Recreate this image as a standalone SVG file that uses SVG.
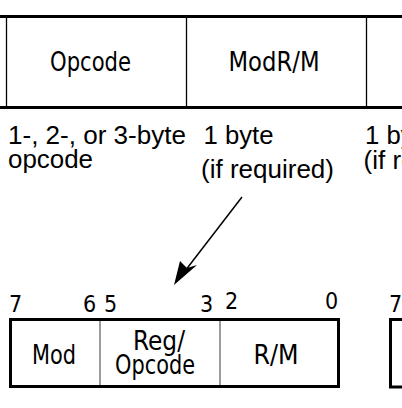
<svg xmlns="http://www.w3.org/2000/svg" width="402" height="408" viewBox="0 0 402 408">
<style>
.lbl{font-family:"DejaVu Sans Condensed","DejaVu Sans",sans-serif;font-size:26px;fill:#000;text-anchor:middle}
.bit{font-family:"DejaVu Sans Condensed","DejaVu Sans",sans-serif;font-size:23px;fill:#000}
.note{font-family:"Liberation Sans",Arial,sans-serif;font-size:25.5px;fill:#000}
.thick{stroke:#000;stroke-width:3;fill:none}
.thin{stroke:#000;stroke-width:1.3;fill:none}
.grey{stroke:#666;stroke-width:1.3;fill:none}
</style>
<rect width="402" height="408" fill="#fff"/>
<g id="instruction-format">
<line class="thin" x1="6.5" y1="16" x2="6.5" y2="107"/>
<line class="thin" x1="186.5" y1="16" x2="186.5" y2="107"/>
<line class="thin" x1="366.5" y1="16" x2="366.5" y2="107"/>
<line class="thick" x1="0" y1="16.5" x2="402" y2="16.5" stroke-width="2.8"/>
<line class="thick" x1="0" y1="107.5" x2="402" y2="107.5"/>
</g>
<g id="opcode">
<text class="lbl" x="90.5" y="71" textLength="81" lengthAdjust="spacingAndGlyphs">Opcode</text>
<text class="note" x="8" y="144" textLength="178" lengthAdjust="spacingAndGlyphs">1-, 2-, or 3-byte</text>
<text class="note" x="8" y="168" textLength="85" lengthAdjust="spacingAndGlyphs">opcode</text>
</g>
<g id="modrm">
<text class="lbl" x="274" y="71" textLength="91" lengthAdjust="spacingAndGlyphs">ModR/M</text>
<text class="note" x="203.5" y="144" textLength="70" lengthAdjust="spacingAndGlyphs">1 byte</text>
<text class="note" x="201" y="178" textLength="133" lengthAdjust="spacingAndGlyphs">(if required)</text>
</g>
<g id="sib">
<text class="note" x="365" y="144" textLength="70" lengthAdjust="spacingAndGlyphs">1 byte</text>
<text class="note" x="363.5" y="169" textLength="133" lengthAdjust="spacingAndGlyphs">(if required)</text>
</g>
<g id="connectors">
<line x1="242" y1="197" x2="185" y2="271" stroke="#000" stroke-width="1.5"/>
<path d="M174,285 L180,261 L187,268 L197,265 Z" fill="#000"/>
</g>
<g id="modrm-byte">
<line class="grey" x1="100" y1="320" x2="100" y2="387"/>
<line class="grey" x1="220" y1="320" x2="220" y2="387"/>
<rect class="thick" x="10.5" y="319.5" width="328" height="67"/>
<text class="bit" x="9" y="312">7</text>
<text class="bit" x="83" y="312">6</text>
<text class="bit" x="104" y="312">5</text>
<text class="bit" x="200" y="312">3</text>
<text class="bit" x="225" y="309">2</text>
<text class="bit" x="325" y="309">0</text>
<text class="lbl" x="54" y="364" textLength="44" lengthAdjust="spacingAndGlyphs">Mod</text>
<text class="lbl" x="159" y="350" textLength="52" lengthAdjust="spacingAndGlyphs">Reg/</text>
<text class="lbl" x="155" y="374" textLength="80" lengthAdjust="spacingAndGlyphs">Opcode</text>
<text class="lbl" x="276" y="364" textLength="45" lengthAdjust="spacingAndGlyphs">R/M</text>
</g>
<g id="sib-byte">
<path class="thick" d="M402,319.5 H390.5 V387 H402"/>
<text class="bit" x="389" y="312">7</text>
</g>
</svg>
